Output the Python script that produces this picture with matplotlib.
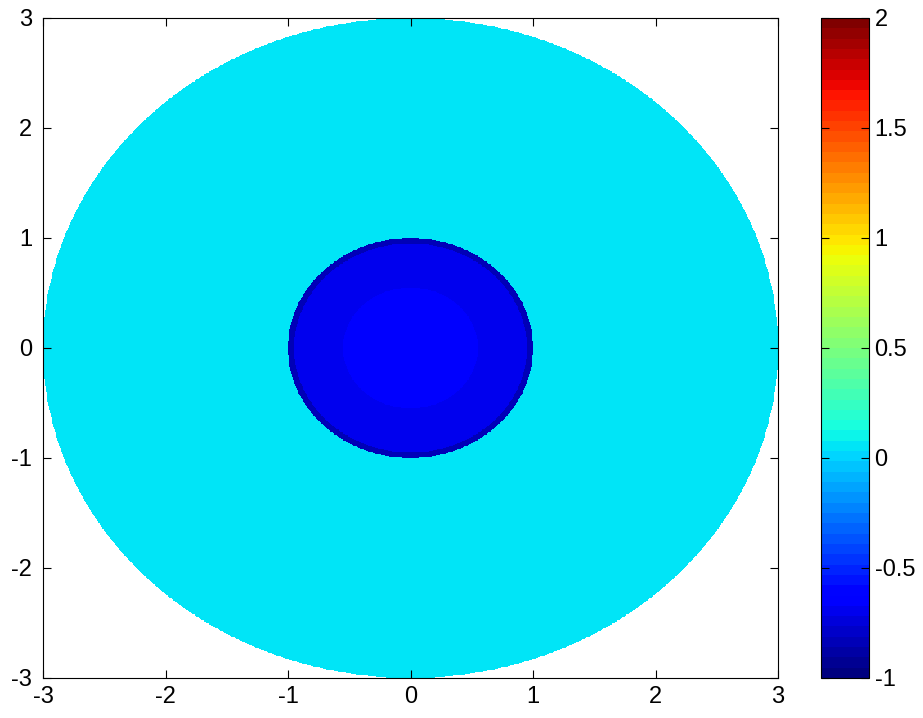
import numpy as np
import matplotlib.pyplot as plt

plt.rcParams['font.family'] = ['Liberation Sans', 'DejaVu Sans']
plt.rcParams['axes.unicode_minus'] = False

# radial profile: outer edge of each band and its value
band_edges = [0.55, 0.95, 1.0, 3.0]
band_values = [-0.65, -0.70, -0.84, 0.04]

ticks = [-3, -2, -1, 0, 1, 2, 3]
cbar_ticks = [-1, -0.5, 0, 0.5, 1, 1.5, 2]

x = np.linspace(-3, 3, 900)
y = np.linspace(-3, 3, 900)
X, Y = np.meshgrid(x, y)
R = np.sqrt(X**2 + Y**2)
idx = np.digitize(R, band_edges)
vals = np.array(band_values + [np.nan])
Z = vals[np.clip(idx, 0, len(band_values))]
Z[R > 3.0] = np.nan

fig = plt.figure(figsize=(9.23, 7.18), dpi=100)
ax = fig.add_axes([43/923, 1-678/718, 735/923, 660/718])
cax = fig.add_axes([821/923, 1-678/718, 48/923, 660/718])

mesh = ax.pcolormesh(X, Y, Z, cmap=plt.get_cmap('jet', 64), vmin=-1, vmax=2,
                     shading='auto')
ax.set_xlim(-3, 3)
ax.set_ylim(-3, 3)
ax.set_xticks(ticks)
ax.set_yticks(ticks)
ax.tick_params(direction='in', length=6, labelsize=17, top=True, right=True)
ax.tick_params(axis='x', pad=6)
ax.tick_params(axis='y', pad=8)

cb = fig.colorbar(mesh, cax=cax, ticks=cbar_ticks)
cb.ax.set_yticklabels(['-1', '-0.5', '0', '0.5', '1', '1.5', '2'])
cb.ax.tick_params(direction='in', length=6, labelsize=17, left=True, right=True,
                  pad=4)
cb.outline.set_linewidth(0.8)

fig.savefig('out.png', dpi=100)
